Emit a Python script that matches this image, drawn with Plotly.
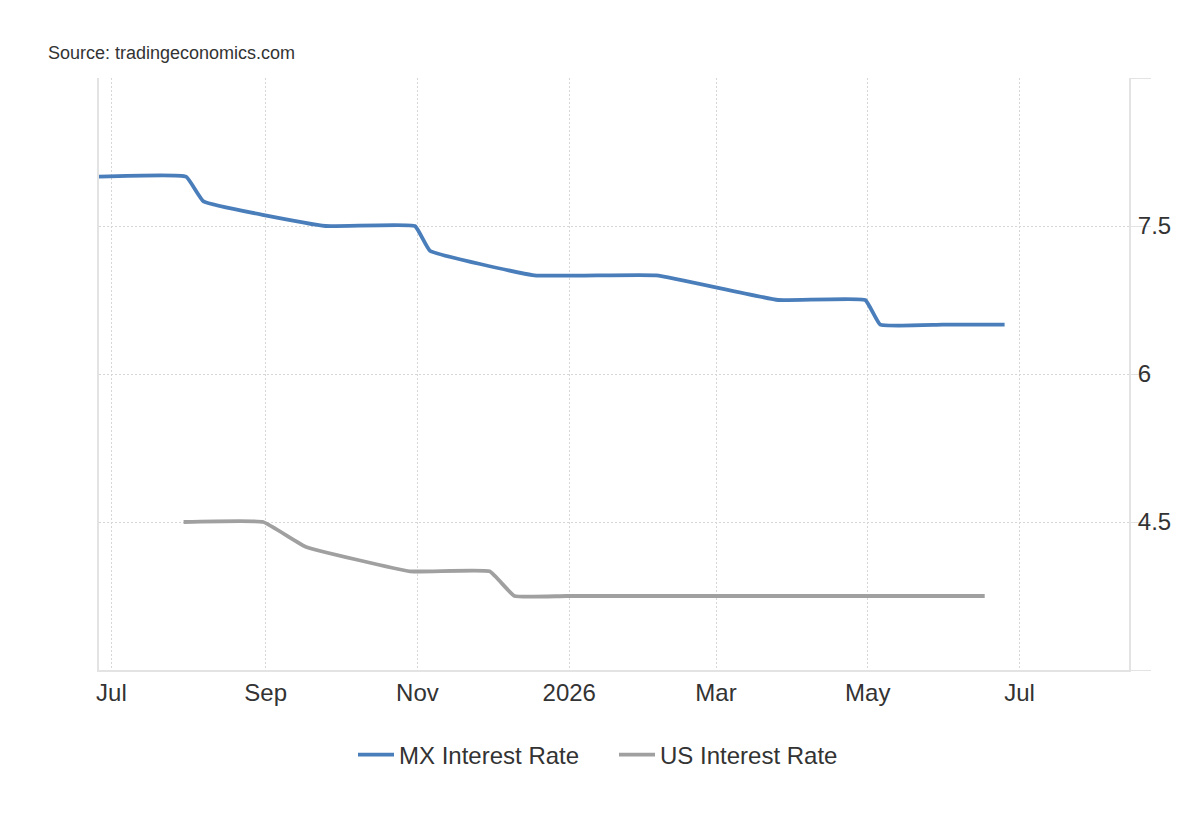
import plotly.graph_objects as go

# MX interest rate
mx_dates = ["2025-06-26", "2025-07-31", "2025-08-07", "2025-09-25", "2025-10-31",
            "2025-11-06", "2025-12-18", "2026-02-05", "2026-03-26", "2026-04-30",
            "2026-05-06", "2026-05-31", "2026-06-25"]
mx_values = [8.0, 8.0, 7.75, 7.5, 7.5, 7.25, 7.0, 7.0, 6.75, 6.75, 6.5, 6.5, 6.5]

# US interest rate
us_dates = ["2025-07-30", "2025-08-31", "2025-09-17", "2025-10-29", "2025-11-30",
            "2025-12-10", "2025-12-31", "2026-06-17"]
us_values = [4.5, 4.5, 4.25, 4.0, 4.0, 3.75, 3.75, 3.75]

x_tick_vals = ["2025-07-01", "2025-09-01", "2025-11-01", "2026-01-01",
               "2026-03-01", "2026-05-01", "2026-07-01"]
x_tick_text = ["Jul", "Sep", "Nov", "2026", "Mar", "May", "Jul"]
y_tick_vals = [3, 4.5, 6, 7.5, 9]
y_tick_text = ["", "4.5", "6", "7.5", ""]

FONT = "Arial, Liberation Sans, sans-serif"
GRID = "#d6d6d6"
AXIS = "#e3e3e3"
TEXT = "#333333"

fig = go.Figure()
fig.add_trace(go.Scatter(
    x=mx_dates, y=mx_values, name="MX Interest Rate", mode="lines",
    line=dict(color="#4a7ebb", width=3.8, shape="spline", smoothing=0.3),
    hoverinfo="skip",
))
fig.add_trace(go.Scatter(
    x=us_dates, y=us_values, name="US Interest Rate", mode="lines",
    line=dict(color="#a0a0a0", width=3.8, shape="spline", smoothing=0.3),
    hoverinfo="skip",
))

fig.update_layout(
    width=1200, height=820,
    margin=dict(l=91, r=79, t=70, b=158),
    paper_bgcolor="white", plot_bgcolor="white",
    font=dict(family=FONT, color=TEXT, size=24),
    showlegend=True,
    legend=dict(orientation="h", x=0.5, xanchor="center", y=-0.1436, yanchor="middle",
                font=dict(size=24, color=TEXT), entrywidth=210, itemwidth=36,
                bgcolor="rgba(0,0,0,0)"),
    annotations=[dict(text="Source: tradingeconomics.com", xref="paper", yref="paper",
                      x=-0.0514, y=1.043, xanchor="left", yanchor="middle",
                      showarrow=False, font=dict(size=18, color=TEXT))],
)

fig.update_xaxes(
    type="date", range=["2025-06-26", "2026-08-14"],
    tickvals=x_tick_vals, ticktext=x_tick_text,
    showgrid=True, gridcolor=GRID, griddash="2px,2px", gridwidth=1,
    showline=True, linecolor=AXIS, linewidth=2,
    ticks="", ticklabelstandoff=0,
    tickfont=dict(size=24, color=TEXT),
    zeroline=False, fixedrange=True,
)
fig.update_yaxes(
    side="right", range=[3, 9],
    tickvals=y_tick_vals, ticktext=y_tick_text,
    showgrid=True, gridcolor=GRID, griddash="2px,2px", gridwidth=1,
    showline=True, linecolor=AXIS, linewidth=2, mirror=True,
    ticks="outside", ticklen=20, tickcolor=AXIS, tickwidth=1,
    ticklabelstandoff=-18,
    tickfont=dict(size=24, color=TEXT),
    zeroline=False, fixedrange=True,
)

fig.write_html("out.html")
